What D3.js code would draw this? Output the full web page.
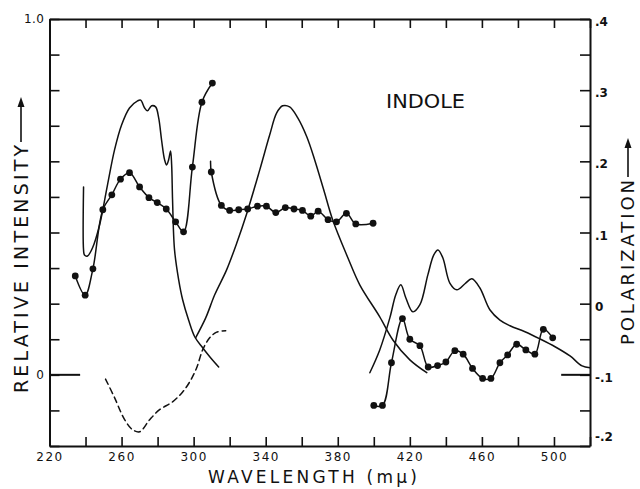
<!DOCTYPE html>
<html><head><meta charset="utf-8">
<script src="https://cdn.jsdelivr.net/npm/d3@7"></script>
<style>
body{margin:0;background:#fff}
svg{display:block}
</style>
</head><body>
<svg id="c" width="640" height="489"></svg>
<script>
// ---- data (wavelength in mμ) ----
// absorption spectrum (relative intensity, left axis)
const absWl  = [238.9,238.9,239.4,241.1,243.9,247.8,252.2,256.1,260.0,264.4,268.9,270.6,272.8,274.4,276.7,278.9,280.6,282.2,283.9,285.0,286.1,287.2,287.8,288.3,289.4,291.7,293.9,297.2,300.6,305.0,309.4,313.9];
const absInt = [0.528,0.351,0.337,0.334,0.357,0.421,0.534,0.632,0.702,0.750,0.770,0.772,0.750,0.742,0.756,0.753,0.722,0.660,0.604,0.590,0.604,0.629,0.590,0.492,0.351,0.267,0.211,0.154,0.107,0.076,0.048,0.022];
// fluorescence band (left axis)
const fluWl  = [301.1,306.7,311.7,318.3,323.9,329.4,336.7,342.2,346.1,349.4,353.3,357.8,362.8,367.2,372.2,377.2,385.6,392.2,403.3,410.6,420.0,429.4];
const fluInt = [0.104,0.160,0.225,0.295,0.370,0.452,0.576,0.674,0.736,0.756,0.753,0.722,0.669,0.604,0.520,0.435,0.329,0.253,0.163,0.098,0.042,0.006];
// phosphorescence band (left axis)
const phoWl  = [397.8,403.3,408.9,412.2,415.0,417.8,421.7,425.6,430.0,433.3,435.6,438.3,442.2,446.1,450.6,454.4,458.9,464.4,470.0,475.6,483.9,492.2,500.6,508.9,515.6,520.0];
const phoInt = [0.006,0.070,0.160,0.225,0.253,0.216,0.177,0.197,0.281,0.337,0.351,0.329,0.258,0.239,0.256,0.270,0.244,0.183,0.154,0.138,0.121,0.101,0.079,0.053,0.025,0.020];
// polarization series (right axis)
const polAWl  = [234.3,239.8,244.1,249.6,254.6,259.4,264.4,270.0,275.2,279.8,284.8,290.0,294.4,299.3,304.6,310.4];
const polAVal = [0.039,0.012,0.049,0.132,0.153,0.175,0.184,0.164,0.149,0.142,0.133,0.115,0.101,0.192,0.283,0.310];
const polBWl  = [309.4,309.8,315.4,320.0,325.0,330.0,335.4,340.4,345.6,350.9,355.7,360.4,365.0,369.1,374.6,379.3,384.8,390.0,399.6];
const polBVal = [0.200,0.185,0.138,0.131,0.132,0.133,0.137,0.137,0.128,0.135,0.133,0.131,0.123,0.130,0.118,0.115,0.127,0.112,0.113];
const polCWl  = [400.0,404.8,409.8,415.9,420.0,425.6,430.2,435.4,440.0,445.0,449.6,454.8,460.4,465.0,470.0,474.3,479.3,484.4,489.4,494.1,499.3];
const polCVal = [-0.143,-0.143,-0.083,-0.021,-0.050,-0.059,-0.089,-0.087,-0.082,-0.066,-0.071,-0.091,-0.105,-0.105,-0.083,-0.072,-0.057,-0.065,-0.071,-0.036,-0.048];
// dashed polarization curve (right axis)
const dashWl  = [251.1,256.1,261.7,266.1,270.0,275.6,281.1,288.3,293.9,297.8,301.7,305.0,308.9,312.8,317.8];
const dashVal = [-0.106,-0.132,-0.163,-0.177,-0.180,-0.163,-0.149,-0.138,-0.124,-0.110,-0.090,-0.065,-0.048,-0.040,-0.038];

// ticks
const xTicks = [220,240,260,280,300,320,340,360,380,400,420,440,460,480,500,520];
const xLabels = [220,260,300,340,380,420,460,500];
const leftTicks = [-0.2,-0.1,0,0.1,0.2,0.3,0.4,0.5,0.6,0.7,0.8,0.9,1.0];
const leftLabelVals = [1.0,0];
const leftLabelText = ["1.0","0"];
const rightTicks = [-0.2,-0.15,-0.1,-0.05,0,0.05,0.1,0.15,0.2,0.25,0.3,0.35,0.4];
const rightLabelVals = [0.4,0.3,0.2,0.1,0,-0.1,-0.2];
const rightLabelText = [".4",".3",".2",".1","0","-.1","-.2"];

// ---- drawing ----
const FONT = "'DejaVu Sans', sans-serif";
const INK = "#111";
const svg = d3.select("#c");
const x  = d3.scaleLinear().domain([220,520]).range([49.5,590]);
const yL = d3.scaleLinear().domain([-0.2,1.0]).range([446,19]);
const yR = d3.scaleLinear().domain([-0.2,0.4]).range([446,19]);

function styleAxis(g){
  g.attr("font-family",FONT).attr("font-size",12);
  g.select(".domain").attr("stroke",INK).attr("stroke-width",2);
  g.selectAll(".tick line").attr("stroke",INK).attr("stroke-width",1.6);
  g.selectAll(".tick text").attr("fill",INK).style("letter-spacing","1.5px");
}
const near = (a,b)=>Math.abs(a-b)<1e-6;

// bottom
const gB = svg.append("g").attr("transform","translate(0,446)")
  .call(d3.axisBottom(x).tickValues(xTicks).tickSizeInner(-9).tickSizeOuter(0).tickPadding(6)
    .tickFormat(d=> xLabels.includes(d) ? String(d) : ""));
styleAxis(gB);
// top
const gT = svg.append("g").attr("transform","translate(0,19)")
  .call(d3.axisTop(x).tickValues(xTicks).tickSizeInner(-9).tickSizeOuter(0).tickFormat(""));
styleAxis(gT);
// left
const gL = svg.append("g").attr("transform","translate(49.5,0)")
  .call(d3.axisLeft(yL).tickValues(leftTicks).tickSizeInner(-10).tickSizeOuter(0).tickPadding(5)
    .tickFormat(d=>{ const i = leftLabelVals.findIndex(v=>near(v,d)); return i>=0 ? leftLabelText[i] : ""; }));
styleAxis(gL);
gL.selectAll(".tick text").style("letter-spacing","0.5px");
// right
const gR = svg.append("g").attr("transform","translate(590,0)")
  .call(d3.axisRight(yR).tickValues(rightTicks).tickSizeInner(-10).tickSizeOuter(0).tickPadding(5)
    .tickFormat(d=>{ const i = rightLabelVals.findIndex(v=>near(v,d)); return i>=0 ? rightLabelText[i] : ""; }));
styleAxis(gR);
gR.selectAll(".tick text").attr("font-weight","bold").style("letter-spacing","0px")
  .attr("dy", d => near(d,-0.2) ? "-0.45em" : "0.55em");

// baselines
svg.append("line").attr("x1",x(220)).attr("x2",x(237)).attr("y1",yL(0)).attr("y2",yL(0))
  .attr("stroke",INK).attr("stroke-width",2);
svg.append("line").attr("x1",x(504)).attr("x2",x(520)).attr("y1",yR(-0.1)).attr("y2",yR(-0.1))
  .attr("stroke",INK).attr("stroke-width",2);

const curve = d3.curveCatmullRom.alpha(0.5);
const lineL = d3.line().x(d=>x(d[0])).y(d=>yL(d[1])).curve(curve);
const lineR = d3.line().x(d=>x(d[0])).y(d=>yR(d[1])).curve(curve);

function path(gen, wl, val, dash){
  svg.append("path").datum(d3.zip(wl,val)).attr("d",gen)
    .attr("fill","none").attr("stroke",INK).attr("stroke-width",1.5)
    .attr("stroke-linejoin","round").attr("stroke-linecap","round")
    .attr("stroke-dasharray", dash || null);
}
function dots(wl, val, skipFirst){
  const pts = d3.zip(wl,val).slice(skipFirst?1:0);
  svg.append("g").selectAll("circle").data(pts).join("circle")
    .attr("cx",d=>x(d[0])).attr("cy",d=>yR(d[1])).attr("r",3.4).attr("fill",INK);
}

path(lineL, absWl, absInt);
path(lineL, fluWl, fluInt);
path(lineL, phoWl, phoInt);
path(lineR, dashWl, dashVal, "6,4");
path(lineR, polAWl, polAVal); dots(polAWl, polAVal, false);
path(lineR, polBWl, polBVal); dots(polBWl, polBVal, true);
path(lineR, polCWl, polCVal); dots(polCWl, polCVal, false);

// texts
svg.append("text").attr("x",386).attr("y",108).attr("font-family",FONT).attr("font-size",19)
  .attr("fill",INK).attr("textLength",79).attr("lengthAdjust","spacingAndGlyphs").text("INDOLE");
svg.append("text").attr("x",208).attr("y",483).attr("font-family",FONT).attr("font-size",17)
  .attr("fill",INK).attr("textLength",209).attr("lengthAdjust","spacing").text("WAVELENGTH (mμ)");
svg.append("text").attr("transform","translate(28,393) rotate(-90)").attr("font-family",FONT).attr("font-size",19)
  .attr("fill",INK).attr("textLength",248).attr("lengthAdjust","spacing").text("RELATIVE INTENSITY");
svg.append("text").attr("transform","translate(634,345) rotate(-90)").attr("font-family",FONT).attr("font-size",18)
  .attr("fill",INK).attr("textLength",165).attr("lengthAdjust","spacing").text("POLARIZATION");
// arrows
function upArrow(cx, y0, y1){
  svg.append("line").attr("x1",cx).attr("x2",cx).attr("y1",y0).attr("y2",y1+8)
    .attr("stroke",INK).attr("stroke-width",1.6);
  svg.append("path").attr("d",`M${cx},${y1} L${cx-3.5},${y1+10} L${cx+3.5},${y1+10} Z`).attr("fill",INK);
}
upArrow(21, 142, 97);
upArrow(628, 177, 138);
</script>
</body></html>
